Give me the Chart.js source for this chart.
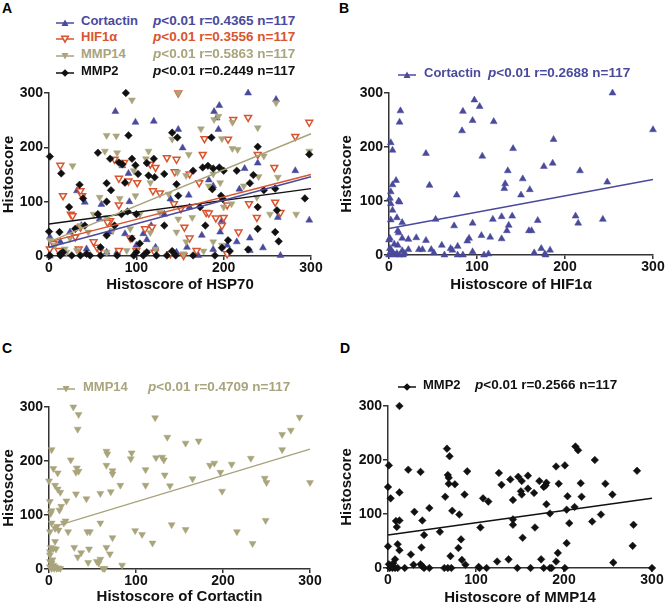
<!DOCTYPE html>
<html>
<head>
<meta charset="utf-8">
<script src="https://cdn.jsdelivr.net/npm/chart.js@4.4.0/dist/chart.umd.min.js"></script>
<style>
    body { margin: 0; background: #fff; width: 665px; height: 605px; overflow: hidden; position: relative;
           font-family: "Liberation Sans", Arial, sans-serif; }
    canvas { position: absolute; }
    .panel-letter { position: absolute; font-weight: bold; font-size: 14px; line-height: 16px; color: #000; }
    .leg { position: absolute; font-weight: bold; font-size: 13.5px; line-height: 16px; white-space: nowrap; }
    .leg.name { font-size: 13px; }
    .leg-mark { position: absolute; }
</style>
</head>
<body>
<div class="panel-letter" style="left:2px;top:0px">A</div>
<div class="panel-letter" style="left:339px;top:0px">B</div>
<div class="panel-letter" style="left:2px;top:340px">C</div>
<div class="panel-letter" style="left:340px;top:340px">D</div>

<canvas id="chartA" width="330" height="214" style="left:0px;top:80px"></canvas>
<canvas id="chartB" width="335" height="214" style="left:330px;top:80px"></canvas>
<canvas id="chartC" width="330" height="211" style="left:0px;top:395px"></canvas>
<canvas id="chartD" width="335" height="212" style="left:330px;top:395px"></canvas>

<script>
// Cores das séries
const BLUE = '#4a4a9c';
const ORANGE = '#d9552f';
const KHAKI = '#a9a47c';
const BLACK = '#111111';

// Painel A: histoscore vs HSP70 (pares [x, y])
const hsp70Cortactin = [[228,300],[260,288],[76,266],[99,246],[120,248],[189,266],[195,277],[148,233],[192,254],[194,233],[153,199],[84,166],[91,152],[32,120],[41,99],[60,95],[92,100],[139,105],[160,112],[183,140],[188,129],[224,161],[239,171],[282,157],[298,66],[218,123],[262,71],[230,33],[245,15],[265,1],[215,26],[198,65],[196,44],[175,38],[161,90],[132,77],[117,56],[108,41],[87,41],[70,44],[58,68],[37,56],[24,44],[13,26],[1,35],[1,0],[18,7],[43,13],[78,7],[112,30],[122,16],[146,7],[171,1],[188,12],[204,20],[230,10],[158,16],[100,20],[66,7]];
const hsp70Hif1a = [[148,300],[211,251],[228,255],[298,246],[282,220],[178,216],[205,215],[239,187],[258,163],[13,167],[16,111],[75,178],[86,172],[80,143],[91,138],[101,135],[116,169],[122,163],[135,181],[146,178],[144,155],[161,151],[172,135],[176,187],[119,120],[127,116],[143,96],[151,87],[180,80],[183,79],[191,70],[200,71],[204,94],[229,96],[259,99],[265,80],[238,71],[217,44],[198,56],[25,77],[27,74],[36,120],[38,111],[70,65],[80,94],[67,62],[36,53],[30,35],[110,50],[118,53],[155,53],[161,33],[93,33],[51,26],[5,23],[1,13],[11,10],[34,13],[58,10],[80,10],[100,10],[121,7],[139,4],[154,1],[169,10],[204,4],[55,16]];
const hsp70Mmp14 = [[95,287],[148,300],[260,282],[189,251],[194,257],[210,246],[239,236],[66,222],[77,221],[141,215],[174,234],[198,216],[210,198],[216,196],[114,193],[160,187],[246,184],[27,166],[64,193],[78,190],[97,157],[111,179],[116,135],[137,114],[147,154],[157,148],[188,151],[196,135],[223,129],[240,146],[262,145],[283,77],[298,193],[58,108],[81,106],[99,111],[51,77],[66,71],[104,77],[127,80],[148,68],[164,71],[183,129],[200,90],[209,96],[238,108],[253,77],[36,56],[45,44],[73,47],[93,50],[116,43],[146,44],[157,26],[188,26],[24,32],[1,29],[7,20],[18,13],[32,10],[66,7],[89,10],[112,7],[122,13],[154,4],[177,9],[198,20],[20,7]];
const hsp70Mmp2 = [[88,300],[91,222],[141,227],[56,190],[70,179],[80,172],[84,169],[95,179],[99,167],[112,171],[120,179],[147,218],[186,218],[176,163],[182,166],[188,161],[195,163],[200,157],[215,157],[239,201],[234,149],[230,134],[246,121],[259,124],[298,187],[293,106],[1,183],[14,152],[35,131],[39,106],[23,90],[66,134],[66,100],[71,121],[87,135],[102,151],[114,148],[121,145],[132,151],[146,132],[165,157],[187,123],[197,111],[199,105],[148,111],[83,77],[90,82],[100,77],[56,77],[41,56],[75,56],[132,56],[179,56],[173,90],[239,90],[261,84],[239,50],[259,44],[263,27],[205,29],[198,15],[228,12],[0,45],[12,44],[30,50],[66,38],[95,32],[104,23],[59,16],[1,1],[13,1],[26,1],[36,1],[47,1],[59,1],[78,1],[97,1],[108,1],[123,1],[135,1],[145,1],[165,1],[190,1],[207,9],[13,4],[16,7],[43,4],[100,7],[112,7],[141,9]];

// Painel B: Cortactin vs HIF1α
const hif1aCortactin = [[254,300],[300,232],[97,287],[103,275],[13,267],[12,246],[84,266],[83,230],[95,249],[119,247],[187,214],[141,197],[106,183],[42,188],[2,208],[4,194],[176,164],[186,170],[217,156],[135,156],[46,129],[8,138],[4,130],[132,132],[131,123],[152,141],[160,121],[150,111],[77,111],[248,135],[2,117],[1,105],[11,100],[12,98],[2,95],[4,83],[9,69],[2,65],[15,60],[10,45],[11,41],[53,66],[74,54],[95,59],[118,66],[128,71],[140,72],[136,55],[134,45],[159,45],[162,45],[169,64],[212,72],[215,59],[243,66],[1,31],[0,28],[15,31],[22,29],[31,32],[42,27],[60,18],[70,12],[78,16],[89,26],[91,31],[105,36],[115,33],[128,30],[95,6],[34,10],[38,10],[48,10],[51,4],[63,0],[72,9],[78,0],[84,0],[108,0],[113,2],[165,4],[173,12],[177,2],[178,0],[183,9],[22,10],[15,8],[1,12],[3,8],[5,3],[7,0],[9,3],[12,0],[16,0],[18,3],[0,0],[2,6],[10,18],[6,20]];

// Painel C: MMP14 vs Cortactin
const cortactinMmp14 = [[28,300],[34,286],[33,259],[122,280],[136,244],[157,233],[172,237],[288,281],[278,257],[268,249],[268,221],[300,160],[3,221],[25,202],[66,218],[67,213],[95,215],[94,204],[66,192],[73,182],[73,176],[32,187],[34,181],[31,179],[5,186],[10,178],[111,184],[123,206],[130,207],[132,202],[133,174],[139,154],[111,155],[165,167],[185,192],[190,196],[197,179],[210,194],[232,205],[199,144],[248,168],[250,160],[82,155],[59,140],[71,143],[43,130],[31,139],[13,142],[7,155],[10,148],[0,163],[20,126],[12,109],[14,116],[1,125],[3,108],[2,103],[19,89],[17,85],[9,79],[7,75],[11,72],[22,69],[3,85],[1,69],[59,85],[44,69],[47,69],[99,71],[107,64],[119,48],[141,82],[157,73],[216,69],[234,47],[249,90],[73,58],[29,40],[33,22],[37,30],[46,37],[66,40],[70,28],[45,12],[55,14],[59,18],[57,11],[62,1],[64,1],[84,7],[2,40],[5,38],[8,37],[1,26],[1,14],[3,11],[5,7],[7,4],[9,1],[11,2],[13,1],[1,4],[3,1],[6,1],[4,17],[1,32],[7,51]];

// Painel D: MMP2 vs MMP14
const mmp14Mmp2 = [[13,300],[67,221],[70,207],[213,225],[216,218],[235,200],[1,190],[23,182],[37,178],[90,179],[126,176],[148,169],[159,171],[191,188],[201,190],[283,180],[68,172],[69,167],[69,156],[76,155],[139,164],[152,161],[129,154],[151,142],[159,147],[166,139],[172,161],[177,150],[180,158],[179,153],[194,156],[219,157],[247,156],[0,150],[3,129],[13,140],[65,132],[87,136],[108,129],[114,123],[142,126],[152,136],[180,118],[204,133],[220,132],[212,113],[255,136],[47,111],[73,106],[81,99],[30,104],[39,88],[9,87],[13,88],[10,76],[184,101],[203,108],[206,83],[242,99],[232,86],[279,80],[142,90],[142,80],[105,75],[167,75],[59,67],[41,61],[83,53],[153,56],[278,41],[203,46],[0,40],[11,44],[13,33],[38,38],[80,37],[26,25],[8,16],[71,22],[84,15],[193,28],[191,12],[124,12],[137,16],[174,16],[256,10],[29,6],[37,7],[39,3],[88,6],[103,2],[2,0],[5,0],[8,0],[11,0],[19,0],[41,0],[47,0],[64,0],[68,0],[72,0],[104,0],[112,0],[147,0],[162,0],[177,0],[184,0],[186,0],[201,0],[300,0],[1,7],[4,4],[6,9]];

// Retas de regressão (extremos)
const fitA = {
    cortactin: [[0,16],[300,146]],
    hif1a: [[0,26],[300,150]],
    mmp14: [[0,26],[300,225]],
    mmp2: [[0,59],[300,124]]
};
const fitB = [[0,49],[300,140]];
const fitC = [[5,78],[300,222]];
const fitD = [[0,61],[300,129]];

// Estatísticas das legendas
const rA = ['0.4365', '0.3556', '0.5863', '0.2449'];
const rB = '0.2688';
const rC = '0.4709';
const rD = '0.2566';
const nSamples = 117;

const axisTicks = [0, 100, 200, 300];

Chart.defaults.font.family = '"Liberation Sans", Arial, sans-serif';
Chart.defaults.color = '#111';

const toPts = arr => arr.map(([x, y]) => ({ x, y }));

const MARKERS = {
    up: { pointStyle: 'triangle', rotation: 0, pointRadius: 4, filled: true },
    downHollow: { pointStyle: 'triangle', rotation: 180, pointRadius: 4, filled: false },
    down: { pointStyle: 'triangle', rotation: 180, pointRadius: 4, filled: true },
    diamond: { pointStyle: 'rectRot', rotation: 0, pointRadius: 3.8, filled: true }
};

function scatterSet(data, color, marker, order) {
    const m = MARKERS[marker];
    return {
        type: 'scatter',
        data: toPts(data),
        pointStyle: m.pointStyle,
        rotation: m.rotation,
        pointRadius: m.pointRadius,
        backgroundColor: m.filled ? color : '#ffffff',
        borderColor: color,
        borderWidth: m.filled ? 0.5 : 1.5,
        clip: false,
        order: order
    };
}

function fitSet(line, color) {
    return {
        type: 'line',
        data: toPts(line),
        borderColor: color,
        borderWidth: 1.5,
        pointRadius: 0,
        fill: false,
        clip: false,
        order: 0
    };
}

/**
 * Cria um painel de dispersão com eixos no estilo GraphPad.
 */
function makePanel(id, datasets, xTitle, geo) {
    const canvas = document.getElementById(id);
    const w = canvas.width, h = canvas.height;
    return new Chart(canvas, {
        type: 'scatter',
        data: { datasets },
        options: {
            responsive: false,
            animation: false,
            events: [],
            layout: { padding: { left: geo.padLeft, top: geo.top, right: w - geo.right, bottom: 0 } },
            plugins: { legend: { display: false }, tooltip: { enabled: false } },
            scales: {
                x: {
                    type: 'linear', min: 0, max: 300,
                    afterBuildTicks: s => { s.ticks = axisTicks.map(v => ({ value: v })); },
                    ticks: { color: '#111', font: { size: 14, weight: 'bold' }, padding: 0, maxRotation: 0 },
                    grid: { display: true, drawOnChartArea: false, drawTicks: true, tickLength: 4, color: '#333', lineWidth: 1.5 },
                    border: { display: true, color: '#333', width: 1.5 },
                    title: { display: true, text: xTitle, color: '#111', font: { size: 15, weight: 'bold' }, padding: 0 },
                    afterFit: s => { s.height = h - geo.bottom; }
                },
                y: {
                    type: 'linear', min: 0, max: 300,
                    afterBuildTicks: s => { s.ticks = axisTicks.map(v => ({ value: v })); },
                    ticks: { color: '#111', font: { size: 14, weight: 'bold' }, padding: 1 },
                    grid: { display: true, drawOnChartArea: false, drawTicks: true, tickLength: 5, color: '#333', lineWidth: 1.5 },
                    border: { display: true, color: '#333', width: 1.5 },
                    title: { display: true, text: 'Histoscore', color: '#111', font: { size: 15, weight: 'bold' }, padding: 0 },
                    afterFit: s => { s.width = geo.left - geo.padLeft; }
                }
            }
        }
    });
}

makePanel('chartA', [
    fitSet(fitA.mmp14, KHAKI),
    fitSet(fitA.hif1a, ORANGE),
    fitSet(fitA.cortactin, BLUE),
    fitSet(fitA.mmp2, BLACK),
    scatterSet(hsp70Mmp2, BLACK, 'diamond', 1),
    scatterSet(hsp70Mmp14, KHAKI, 'down', 2),
    scatterSet(hsp70Hif1a, ORANGE, 'downHollow', 3),
    scatterSet(hsp70Cortactin, BLUE, 'up', 4)
], 'Histoscore of HSP70', { padLeft: 0, left: 49, top: 13, right: 311, bottom: 176 });

makePanel('chartB', [
    fitSet(fitB, BLUE),
    scatterSet(hif1aCortactin, BLUE, 'up', 1)
], 'Histoscore of HIF1α', { padLeft: 8, left: 59, top: 13, right: 323, bottom: 175 });

makePanel('chartC', [
    fitSet(fitC, KHAKI),
    scatterSet(cortactinMmp14, KHAKI, 'down', 1)
], 'Histoscore of Cortactin', { padLeft: 0, left: 49, top: 12, right: 310, bottom: 174 });

makePanel('chartD', [
    fitSet(fitD, BLACK),
    scatterSet(mmp14Mmp2, BLACK, 'diamond', 1)
], 'Histoscore of MMP14', { padLeft: 8, left: 58, top: 11, right: 322, bottom: 173 });

// Legendas em HTML (marcador + nome + estatística)
function markerSvg(shape, color) {
    const cx = 9, cy = 6;
    let shapeEl;
    if (shape === 'up') {
        shapeEl = `<polygon points="${cx-3.5},${cy+3} ${cx+3.5},${cy+3} ${cx},${cy-3.5}" fill="${color}"/>`;
    } else if (shape === 'down') {
        shapeEl = `<polygon points="${cx-3.5},${cy-3} ${cx+3.5},${cy-3} ${cx},${cy+3.5}" fill="${color}"/>`;
    } else if (shape === 'downHollow') {
        shapeEl = `<polygon points="${cx-3.3},${cy-2.8} ${cx+3.3},${cy-2.8} ${cx},${cy+3.2}" fill="#fff" stroke="${color}" stroke-width="1.5"/>`;
    } else {
        shapeEl = `<polygon points="${cx},${cy-3.8} ${cx+3.8},${cy} ${cx},${cy+3.8} ${cx-3.8},${cy}" fill="${color}"/>`;
    }
    return `<svg width="18" height="12" viewBox="0 0 18 12"><line x1="0" y1="${cy}" x2="18" y2="${cy}" stroke="${color}" stroke-width="1.5"/>${shapeEl}</svg>`;
}

function legendRow(pos, shape, color, name, r) {
    const mark = document.createElement('div');
    mark.className = 'leg-mark';
    mark.style.left = pos.markX + 'px';
    mark.style.top = (pos.y - 6) + 'px';
    mark.innerHTML = markerSvg(shape, color);
    document.body.appendChild(mark);

    const label = document.createElement('div');
    label.className = 'leg name';
    label.style.left = pos.nameX + 'px';
    label.style.top = (pos.y - 8) + 'px';
    label.style.color = color;
    label.textContent = name;
    document.body.appendChild(label);

    const st = document.createElement('div');
    st.className = 'leg';
    st.style.left = pos.statX + 'px';
    st.style.top = (pos.y - 8) + 'px';
    st.style.color = color;
    st.innerHTML = `<i>p</i>&lt;0.01 r=${r} n=${nSamples}`;
    document.body.appendChild(st);
}

legendRow({ markX: 56, nameX: 81, statX: 153, y: 21 }, 'up', BLUE, 'Cortactin', rA[0]);
legendRow({ markX: 56, nameX: 81, statX: 153, y: 37 }, 'downHollow', ORANGE, 'HIF1α', rA[1]);
legendRow({ markX: 56, nameX: 81, statX: 153, y: 54 }, 'down', KHAKI, 'MMP14', rA[2]);
legendRow({ markX: 56, nameX: 81, statX: 153, y: 71 }, 'diamond', BLACK, 'MMP2', rA[3]);
legendRow({ markX: 398, nameX: 424, statX: 488, y: 73 }, 'up', BLUE, 'Cortactin', rB);
legendRow({ markX: 57, nameX: 83, statX: 148, y: 387 }, 'down', KHAKI, 'MMP14', rC);
legendRow({ markX: 398, nameX: 423, statX: 475, y: 385 }, 'diamond', BLACK, 'MMP2', rD);
</script>
</body>
</html>
